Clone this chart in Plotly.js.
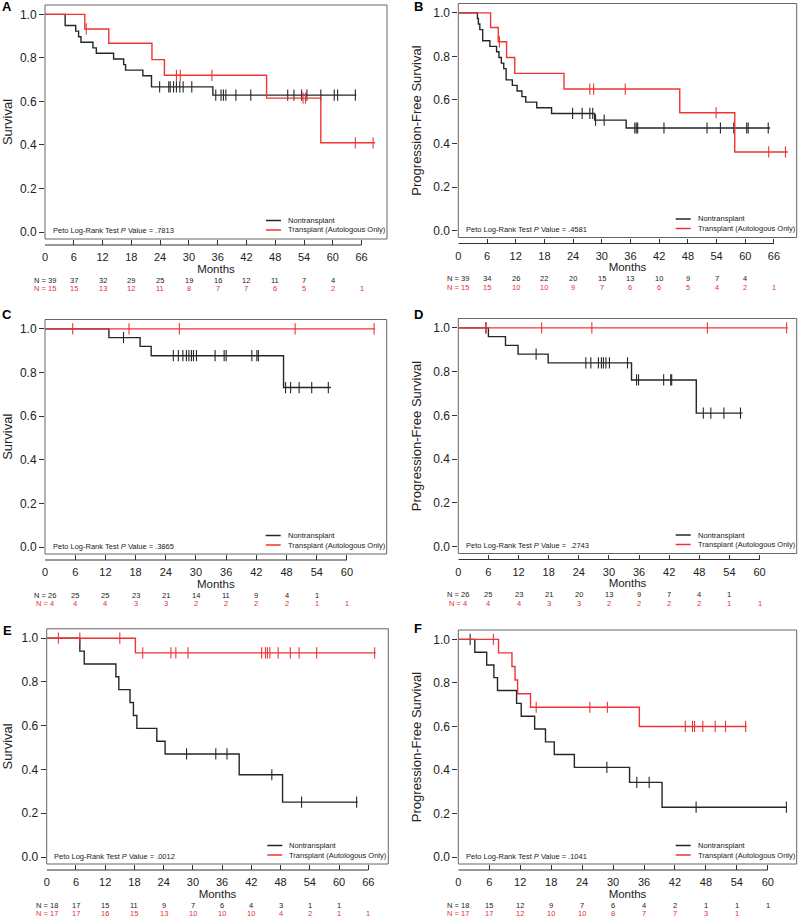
<!DOCTYPE html>
<html><head><meta charset="utf-8">
<script src="https://cdn.plot.ly/plotly-3.0.1.min.js"></script>
<style>html,body{margin:0;padding:0;background:#fff}</style>
</head><body><div id="chart" style="width:800px;height:917px"></div>
<script>
// ---------------- DATA ----------------
const ticksLong = [0, 6, 12, 18, 24, 30, 36, 42, 48, 54, 60, 66];
const ticksShort = [0, 6, 12, 18, 24, 30, 36, 42, 48, 54, 60];
const yTicks = [0, 0.2, 0.4, 0.6, 0.8, 1.0];
const yTickText = ['0.0', '0.2', '0.4', '0.6', '0.8', '1.0'];
const groupNames = ['Nontransplant', 'Transplant (Autologous Only)'];
const panelLetters = ['A', 'B', 'C', 'D', 'E', 'F'];
const yTitles = ['Survival', 'Progression-Free Survival', 'Survival', 'Progression-Free Survival', 'Survival', 'Progression-Free Survival'];
const pValues = ['.7813', '.4581', '.3865', ' .2743', '.0012', '.1041'];

// Panel A
const aNonTime = [4.2, 6.4, 7.0, 7.5, 10.0, 10.7, 14.3, 16.4, 16.8, 20.4, 22.2, 35.0];
const aNonSurv = [0.949, 0.923, 0.897, 0.872, 0.846, 0.821, 0.795, 0.769, 0.744, 0.718, 0.667, 0.629];
const aNonEnd = 64.9;
const aNonCens = [23.9, 25.8, 26.1, 26.8, 27.4, 28.1, 28.8, 30.6, 35.6, 36.7, 37.2, 37.7, 39.8, 42.9, 50.6, 51.9, 53.5, 54.6, 57.5, 60.3, 61.0, 64.7];
const aTxTime = [8.3, 13.3, 22.3, 24.9, 46.2, 57.5];
const aTxSurv = [0.933, 0.867, 0.792, 0.72, 0.615, 0.41];
const aTxEnd = 68.8;
const aTxCens = [8.6, 27.4, 28.2, 34.8, 53.8, 54.3, 64.7, 68.4];
const aNonRisk = [39, 37, 32, 29, 25, 19, 16, 12, 11, 7, 4];
const aTxRisk = [15, 15, 13, 12, 11, 8, 7, 7, 6, 5, 2, 1];

// Panel B
const bNonTime = [4.0, 4.2, 4.5, 5.1, 6.6, 8.0, 8.5, 9.0, 9.5, 10.0, 11.3, 12.3, 13.3, 14.1, 16.4, 19.5, 28.5, 35.1];
const bNonSurv = [0.974, 0.949, 0.923, 0.872, 0.846, 0.821, 0.795, 0.769, 0.744, 0.692, 0.667, 0.641, 0.615, 0.590, 0.564, 0.538, 0.507, 0.471];
const bNonEnd = 65.2;
const bNonCens = [23.9, 25.9, 27.5, 28.1, 28.7, 30.5, 36.9, 37.2, 37.5, 43.0, 52.0, 54.8, 57.6, 60.3, 60.6, 64.8];
const bTxTime = [6.75, 8.35, 10.1, 11.8, 22.1, 46.3, 57.8];
const bTxSurv = [0.933, 0.867, 0.795, 0.722, 0.650, 0.541, 0.361];
const bTxEnd = 68.9;
const bTxCens = [8.6, 27.5, 28.3, 34.9, 53.9, 64.9, 68.4];
const bNonRisk = [39, 34, 26, 22, 20, 15, 13, 10, 9, 7, 4];
const bTxRisk = [15, 15, 10, 10, 9, 7, 6, 6, 5, 4, 2, 1];

// Panel C
const cNonTime = [12.7, 18.9, 21.1, 47.4];
const cNonSurv = [0.96, 0.92, 0.877, 0.731];
const cNonEnd = 56.8;
const cNonCens = [15.6, 25.5, 26.5, 27.4, 28.1, 28.6, 29.1, 29.5, 30.1, 33.8, 35.6, 36.0, 41.1, 42.1, 42.4, 47.8, 48.8, 50.5, 53.0, 56.3];
const cTxTime = [];
const cTxSurv = [];
const cTxEnd = 65.6;
const cTxCens = [5.5, 16.7, 26.7, 49.7, 65.4];
const cNonRisk = [26, 25, 25, 23, 21, 14, 11, 9, 4, 1];
const cTxRisk = [4, 4, 4, 3, 3, 2, 2, 2, 2, 1, 1];

// Panel D
const dNonTime = [6.0, 9.4, 11.9, 17.9, 34.5, 47.4];
const dNonSurv = [0.96, 0.92, 0.88, 0.84, 0.762, 0.61];
const dNonEnd = 56.6;
const dNonCens = [5.5, 15.5, 25.4, 26.4, 27.9, 28.5, 28.9, 29.4, 30.1, 33.7, 35.5, 35.9, 40.9, 42.3, 42.5, 48.8, 50.3, 52.9, 56.2];
const dTxTime = [];
const dTxSurv = [];
const dTxEnd = 65.6;
const dTxCens = [5.5, 16.6, 26.6, 49.6, 65.4];
const dNonRisk = [26, 25, 23, 21, 20, 13, 9, 7, 4, 1];
const dTxRisk = [4, 4, 4, 3, 3, 2, 2, 2, 2, 1, 1];

// Panel E
const eNonTime = [6.8, 7.7, 14.2, 14.8, 17.1, 17.8, 18.5, 22.6, 24.3, 39.5, 48.4];
const eNonSurv = [0.941, 0.882, 0.824, 0.765, 0.706, 0.647, 0.588, 0.529, 0.471, 0.376, 0.251];
const eNonEnd = 63.8;
const eNonCens = [28.7, 34.7, 37.0, 46.2, 52.3, 63.6];
const eTxTime = [18.2];
const eTxSurv = [0.933];
const eTxEnd = 67.5;
const eTxCens = [2.4, 6.8, 15.0, 19.7, 25.5, 26.5, 29.0, 44.1, 44.9, 45.3, 45.8, 47.5, 50.0, 51.8, 55.4, 67.3];
const eNonRisk = [18, 17, 15, 11, 9, 7, 6, 4, 3, 1, 1];
const eTxRisk = [17, 17, 16, 15, 13, 10, 10, 10, 4, 2, 1, 1];

// Panel F
const fNonTime = [3.2, 5.5, 6.9, 7.6, 11.3, 12.2, 14.8, 16.9, 18.6, 22.5, 33.2, 39.5];
const fNonSurv = [0.941, 0.882, 0.824, 0.765, 0.706, 0.647, 0.588, 0.529, 0.471, 0.412, 0.343, 0.229];
const fNonEnd = 63.7;
const fNonCens = [2.3, 28.8, 34.6, 37.0, 46.1, 63.6];
const fTxTime = [7.8, 10.4, 11.0, 11.5, 14.0, 35.1];
const fTxSurv = [0.938, 0.875, 0.813, 0.75, 0.688, 0.60];
const fTxEnd = 55.9;
const fTxCens = [6.8, 15.1, 25.5, 28.9, 44.0, 45.4, 45.8, 47.4, 49.8, 51.8, 55.7];
const fNonRisk = [18, 15, 12, 9, 7, 6, 4, 2, 1, 1, 1];
const fTxRisk = [17, 17, 12, 10, 10, 8, 7, 7, 3, 1];

// ---------------- LAYOUT GEOMETRY (px) ----------------
const W = 800, H = 917;
const boxes = [
  {l: 45, r: 387, t: 5, b: 239, xmax: 71.3, ticks: ticksLong},
  {l: 458.3, r: 796.7, t: 3.5, b: 237.5, xmax: 70.75, ticks: ticksLong},
  {l: 45, r: 386.7, t: 319.5, b: 554, xmax: 67.9, ticks: ticksShort},
  {l: 458.3, r: 796.7, t: 318.5, b: 553.5, xmax: 67.4, ticks: ticksShort},
  {l: 46.7, r: 388.3, t: 628.8, b: 864, xmax: 70.1, ticks: ticksLong},
  {l: 458.3, r: 796.7, t: 630, b: 864, xmax: 65.6, ticks: ticksShort}
];
const letterPos = [[7, 6], [418, 6], [7, 314], [418, 314], [7, 630], [418, 628]];

const panels = [
  {non: [aNonTime, aNonSurv, aNonEnd, aNonCens], tx: [aTxTime, aTxSurv, aTxEnd, aTxCens], risk: [aNonRisk, aTxRisk]},
  {non: [bNonTime, bNonSurv, bNonEnd, bNonCens], tx: [bTxTime, bTxSurv, bTxEnd, bTxCens], risk: [bNonRisk, bTxRisk]},
  {non: [cNonTime, cNonSurv, cNonEnd, cNonCens], tx: [cTxTime, cTxSurv, cTxEnd, cTxCens], risk: [cNonRisk, cTxRisk]},
  {non: [dNonTime, dNonSurv, dNonEnd, dNonCens], tx: [dTxTime, dTxSurv, dTxEnd, dTxCens], risk: [dNonRisk, dTxRisk]},
  {non: [eNonTime, eNonSurv, eNonEnd, eNonCens], tx: [eTxTime, eTxSurv, eTxEnd, eTxCens], risk: [eNonRisk, eTxRisk]},
  {non: [fNonTime, fNonSurv, fNonEnd, fNonCens], tx: [fTxTime, fTxSurv, fTxEnd, fTxCens], risk: [fNonRisk, fTxRisk]}
];

// ---------------- STYLE ----------------
const BLACK = '#262626';
const RED = 'rgb(238,52,52)';
const REDTXT = 'rgb(232,48,48)';
const REG = '"Liberation Sans", Arial, Helvetica, sans-serif';

function stepAt(times, surv, t) {
  let s = 1;
  for (let i = 0; i < times.length; i++) if (times[i] <= t) s = surv[i];
  return s;
}

const traces = [];
const layout = {
  width: W, height: H,
  margin: {l: 0, r: 0, t: 0, b: 0},
  paper_bgcolor: '#fff', plot_bgcolor: '#fff',
  showlegend: false,
  shapes: [], annotations: []
};

panels.forEach((p, i) => {
  const n = i + 1;
  const xa = n === 1 ? 'x' : 'x' + n;
  const ya = n === 1 ? 'y' : 'y' + n;
  const xKey = n === 1 ? 'xaxis' : 'xaxis' + n;
  const yKey = n === 1 ? 'yaxis' : 'yaxis' + n;
  const bx = boxes[i];
  const axisPos = 1 - (bx.b + 6) / H;

  [[p.non, BLACK, groupNames[0]], [p.tx, RED, groupNames[1]]].forEach(([g, col, name]) => {
    const [times, surv, end, cens] = g;
    traces.push({
      type: 'scatter', mode: 'lines', name: name,
      x: [0].concat(times, [end]),
      y: [1].concat(surv, [surv.length ? surv[surv.length - 1] : 1]),
      line: {shape: 'hv', color: col, width: 1.4},
      xaxis: xa, yaxis: ya, hoverinfo: 'skip'
    });
    traces.push({
      type: 'scatter', mode: 'markers', name: name + ' censored',
      x: cens, y: cens.map(t => stepAt(times, surv, t)),
      marker: {symbol: 'line-ns', size: 8, line: {color: col, width: 1.1}},
      xaxis: xa, yaxis: ya, hoverinfo: 'skip'
    });
  });

  layout[xKey] = {
    domain: [bx.l / W, bx.r / W], range: [0, bx.xmax],
    anchor: 'free', position: axisPos,
    showline: false, showgrid: false, zeroline: false,
    ticks: 'inside', ticklen: 5, tickwidth: 1, tickcolor: '#333',
    tickvals: bx.ticks, ticktext: bx.ticks.map(String),
    tickfont: {family: REG, size: 11, color: '#222'},
    ticklabelstandoff: 4,
    title: {text: 'Months', font: {family: REG, size: 11.5, color: '#222'}, standoff: 0},
    fixedrange: true
  };
  layout[yKey] = {
    domain: [1 - bx.b / H, 1 - bx.t / H], range: [-0.032, 1.043],
    anchor: xa,
    showline: false, showgrid: false, zeroline: false,
    ticks: 'outside', ticklen: 5, tickwidth: 1, tickcolor: '#333',
    tickvals: yTicks, ticktext: yTickText,
    tickfont: {family: REG, size: 12, color: '#222'},
    title: {text: yTitles[i], font: {family: REG, size: 13, color: '#222'}, standoff: 8},
    fixedrange: true
  };

  // box
  layout.shapes.push({type: 'rect', xref: xa + ' domain', yref: ya + ' domain', x0: 0, x1: 1, y0: 0, y1: 1,
    line: {color: '#666', width: 1}, fillcolor: 'rgba(0,0,0,0)', layer: 'above'});
  // x axis line from first to last tick
  layout.shapes.push({type: 'line', xref: xa, yref: 'paper', x0: bx.ticks[0], x1: bx.ticks[bx.ticks.length - 1],
    y0: axisPos, y1: axisPos, line: {color: '#333', width: 1}});

  // legend (drawn)
  [[BLACK, groupNames[0], 18.5], [RED, groupNames[1], 9]].forEach(([col, txt, dy]) => {
    layout.shapes.push({type: 'line', xref: xa + ' domain', yref: ya + ' domain',
      xsizemode: 'pixel', ysizemode: 'pixel', xanchor: 1, yanchor: 0,
      x0: -121, x1: -106, y0: dy, y1: dy, line: {color: col, width: 1.5}});
    layout.annotations.push({xref: xa + ' domain', yref: ya + ' domain', x: 1, y: 0,
      xshift: -101, yshift: dy, xanchor: 'left', yanchor: 'middle', showarrow: false,
      text: txt, font: {family: REG, size: 7.5, color: '#222'}});
  });

  // p-value text
  layout.annotations.push({xref: xa + ' domain', yref: ya + ' domain', x: 0, y: 0,
    xshift: 5.5, yshift: 8, xanchor: 'left', yanchor: 'middle', showarrow: false,
    text: 'Peto Log-Rank Test <i>P</i> Value = ' + pValues[i],
    font: {family: REG, size: 7.5, color: '#222'}});

  // number-at-risk table
  p.risk.forEach((arr, gi) => {
    arr.forEach((v, k) => {
      layout.annotations.push({xref: xa, yref: ya + ' domain', x: bx.ticks[k], y: 0,
        yshift: gi === 0 ? -41 : -49.5, xanchor: 'center', yanchor: 'middle', showarrow: false,
        text: (k === 0 ? 'N = ' : '') + v,
        font: {family: REG, size: 7.5, color: gi === 0 ? '#222' : REDTXT}});
    });
  });

  // panel letter
  layout.annotations.push({xref: 'paper', yref: 'paper', x: letterPos[i][0] / W, y: 1 - letterPos[i][1] / H,
    xanchor: 'center', yanchor: 'middle', showarrow: false, text: '<b>' + panelLetters[i] + '</b>',
    font: {family: REG, size: 13, color: '#000'}});
});

Plotly.newPlot('chart', traces, layout, {staticPlot: true, displayModeBar: false});
</script>
</body></html>
